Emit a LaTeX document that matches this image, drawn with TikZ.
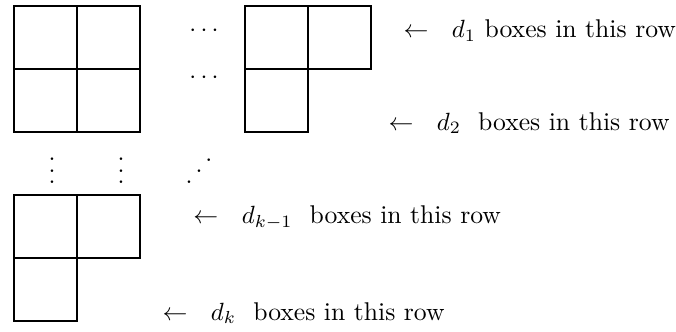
\documentclass[tikz,border=0pt]{standalone}

\newcommand*{\bx}{3.67}   % left edge of the right diagram
\newcommand*{\cy}{-3}     % top edge of the bottom diagram

% dots, spaced like the original
\newcommand*{\hdotsrow}{${\cdot}\,{\cdot}\,{\cdot}$}
\newcommand*{\vdotscol}{\vbox{\baselineskip4.6pt\lineskiplimit0pt\hbox{.}\hbox{.}\hbox{.}}}
\newcommand*{\updotsdiag}{\hbox{.\kern1.2pt\raise4.4pt\hbox{.}\kern1.2pt\raise8.8pt\hbox{.}}}

\begin{document}
\begin{tikzpicture}
[
	cell/.style={draw,line width=0.9pt},
	dotsnode/.style={inner sep=0pt},
	rowlabel/.style={anchor=west,inner sep=0pt,font=\fontsize{10.3}{12}\selectfont},
	x=0.889cm,
	y=0.889cm
]
	\useasboundingbox (-0.222,0.095) rectangle (10.508,-5.159);

	% top left diagram
	\foreach \x/\y in {0/0,1/0,0/-1,1/-1} {
		\draw[cell] (\x,\y) rectangle ++(1,-1);
	}

	% top right diagram
	\foreach \x/\y in {0/0,1/0,0/-1} {
		\draw[cell] (\bx+\x,\y) rectangle ++(1,-1);
	}

	% bottom diagram
	\foreach \x/\y in {0/0,1/0,0/-1} {
		\draw[cell] (\x,\cy+\y) rectangle ++(1,-1);
	}

	% dots
	\node[dotsnode,anchor=mid] at (3.016,-0.40) (hdotsa) {\hdotsrow};
	\node[dotsnode,anchor=mid] at (3.016,-1.15) (hdotsb) {\hdotsrow};
	\node[dotsnode] at (0.603,-2.619) (vdotsa) {\vdotscol};
	\node[dotsnode] at (1.698,-2.619) (vdotsb) {\vdotscol};
	\node[dotsnode] at (2.937,-2.619) (updots) {\updotsdiag};

	% row labels
	\node[rowlabel] at (6.175,-0.392) (rowone) {$\leftarrow\mkern12mu d_1$ boxes in this row};
	\node[rowlabel] at (5.937,-1.857) (rowtwo) {$\leftarrow\mkern12mu d_2$\ \ boxes in this row};
	\node[rowlabel] at (2.84,-3.365) (rowprev) {$\leftarrow\mkern12mu d_{k-1}$\ \ boxes in this row};
	\node[rowlabel] at (2.35,-4.873) (rowlast) {$\leftarrow\mkern12mu d_k$\ \ boxes in this row};

\end{tikzpicture}
\end{document}
